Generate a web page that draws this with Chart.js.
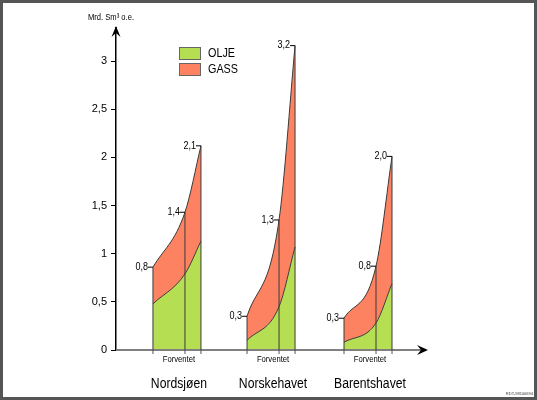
<!DOCTYPE html>
<html>
<head>
<meta charset="utf-8">
<script src="https://cdn.jsdelivr.net/npm/chart.js@4"></script>
<style>
    body { margin: 0; background: #fff; }
    canvas { display: block; }
</style>
</head>
<body>
<canvas id="resourceChart" width="537" height="400"></canvas>
<script>
// Uoppdagede ressurser per havområde - OLJE og GASS (Mrd. Sm3 o.e.)

const regions = ['Nordsjøen', 'Norskehavet', 'Barentshavet'];
const regionStart = [2.31, 8.19, 14.25];   // x of left edge per region
const phaseOffset = [0, 2, 3];             // low, Forventet, high
const phaseName = 'Forventet';

const nordsjoenOlje = [0.48, 0.79, 1.13];
const nordsjoenTotal = [0.86, 1.43, 2.12];
const norskehavetOlje = [0.10, 0.45, 1.07];
const norskehavetTotal = [0.35, 1.35, 3.16];
const barentshavetOlje = [0.08, 0.28, 0.69];
const barentshavetTotal = [0.33, 0.87, 2.01];

const nordsjoenLabels = ['0,8', '1,4', '2,1'];
const norskehavetLabels = ['0,3', '1,3', '3,2'];
const barentshavetLabels = ['0,3', '0,8', '2,0'];

const yTicks = [0, 0.5, 1, 1.5, 2, 2.5, 3];

const oljeValues = [nordsjoenOlje, norskehavetOlje, barentshavetOlje];
const totalValues = [nordsjoenTotal, norskehavetTotal, barentshavetTotal];
const valueLabels = [nordsjoenLabels, norskehavetLabels, barentshavetLabels];

const OLJE_COLOR = '#b6de52';
const GASS_COLOR = '#fc8261';
const LINE_COLOR = '#3a3a3a';
const FONT = '"Liberation Sans", Arial, sans-serif';

function points(r, values) {
    return values.map((v, i) => ({ x: regionStart[r] + phaseOffset[i], y: v }));
}

// text squeezed horizontally, the original uses a narrow face
function narrowText(ctx, text, x, y, size, squeeze) {
    ctx.save();
    ctx.translate(x, y);
    ctx.scale(squeeze, 1);
    ctx.font = size + 'px ' + FONT;
    ctx.fillText(text, 0, 0);
    ctx.restore();
}

const datasets = [];
regions.forEach((name, r) => {
    datasets.push({
        label: 'OLJE',
        data: points(r, oljeValues[r]),
        backgroundColor: OLJE_COLOR,
        borderColor: LINE_COLOR,
        borderWidth: 1,
        fill: 'origin'
    });
    datasets.push({
        label: 'GASS',
        data: points(r, totalValues[r]),
        backgroundColor: GASS_COLOR,
        borderColor: LINE_COLOR,
        borderWidth: 1,
        fill: '-1'
    });
});

// Draws axes arrows, vertical lines, value labels, captions and legend
const decorations = {
    id: 'decorations',
    afterDatasetsDraw(chart) {
        const ctx = chart.ctx;
        const xs = chart.scales.x;
        const ys = chart.scales.y;
        const area = chart.chartArea;
        const y0 = ys.getPixelForValue(0);

        ctx.save();

        // x axis
        ctx.strokeStyle = '#808080';
        ctx.lineWidth = 2;
        ctx.beginPath();
        ctx.moveTo(area.left, y0);
        ctx.lineTo(area.right - 8, y0);
        ctx.stroke();
        ctx.fillStyle = '#000';
        ctx.beginPath();
        ctx.moveTo(area.right - 2, y0);
        ctx.lineTo(area.right - 13, y0 - 5);
        ctx.lineTo(area.right - 9, y0);
        ctx.lineTo(area.right - 13, y0 + 5);
        ctx.closePath();
        ctx.fill();

        // y axis arrow
        const ax = area.left;
        ctx.beginPath();
        ctx.moveTo(ax, area.top - 2);
        ctx.lineTo(ax - 4.5, area.top + 9);
        ctx.lineTo(ax, area.top + 5);
        ctx.lineTo(ax + 4.5, area.top + 9);
        ctx.closePath();
        ctx.fill();

        regions.forEach((name, r) => {
            const px = phaseOffset.map(o => xs.getPixelForValue(regionStart[r] + o));

            px.forEach((x, i) => {
                const yt = ys.getPixelForValue(totalValues[r][i]);
                // vertical line
                ctx.strokeStyle = LINE_COLOR;
                ctx.lineWidth = 1;
                ctx.beginPath();
                ctx.moveTo(x, y0);
                ctx.lineTo(x, yt);
                ctx.stroke();
                // axis tick
                ctx.strokeStyle = '#555';
                ctx.beginPath();
                ctx.moveTo(x, y0);
                ctx.lineTo(x, y0 + 4);
                ctx.stroke();
                // value label with dash
                ctx.strokeStyle = '#000';
                ctx.beginPath();
                ctx.moveTo(x - 5, yt);
                ctx.lineTo(x, yt);
                ctx.stroke();
                ctx.fillStyle = '#000';
                ctx.textAlign = 'right';
                ctx.textBaseline = 'middle';
                narrowText(ctx, valueLabels[r][i], x - 5, yt, 10, 0.9);
            });

            const cx = (px[0] + px[2]) / 2 + 2;
            ctx.textAlign = 'center';
            ctx.textBaseline = 'alphabetic';
            narrowText(ctx, phaseName, cx, 362, 8.5, 0.9);
            narrowText(ctx, name, cx, 388, 14, 0.87);
        });

        // axis title
        ctx.textAlign = 'center';
        ctx.textBaseline = 'alphabetic';
        narrowText(ctx, 'Mrd. Sm³ o.e.', 111, 20, 9.5, 0.8);

        // legend
        const legend = [['OLJE', OLJE_COLOR, 47], ['GASS', GASS_COLOR, 63]];
        legend.forEach(([text, color, top]) => {
            ctx.fillStyle = color;
            ctx.fillRect(179, top, 22, 13);
            ctx.strokeStyle = '#666';
            ctx.lineWidth = 1;
            ctx.strokeRect(179.5, top + 0.5, 21, 12);
            ctx.fillStyle = '#000';
            ctx.textAlign = 'left';
            ctx.textBaseline = 'middle';
            narrowText(ctx, text, 208, top + 7, 12, 0.9);
        });

        // footer id
        ctx.font = '4px ' + FONT;
        ctx.textAlign = 'right';
        ctx.textBaseline = 'alphabetic';
        ctx.fillStyle = '#333';
        ctx.fillText('RDT-98100694', 533, 395);

        // frame
        ctx.strokeStyle = '#555';
        ctx.lineWidth = 3;
        ctx.strokeRect(1.5, 1.5, chart.width - 3, chart.height - 3);

        ctx.restore();
    }
};

new Chart(document.getElementById('resourceChart'), {
    type: 'line',
    data: { datasets: datasets },
    options: {
        responsive: false,
        animation: false,
        devicePixelRatio: 1,
        layout: { padding: { left: 0, top: 28, right: 107, bottom: 50 } },
        elements: {
            point: { radius: 0 },
            line: { cubicInterpolationMode: 'monotone' }
        },
        plugins: {
            legend: { display: false },
            tooltip: { enabled: false }
        },
        scales: {
            x: {
                type: 'linear',
                min: 0,
                max: 19.625,
                display: false
            },
            y: {
                min: 0,
                max: 3.343,
                afterFit: (scale) => { scale.width = 116; },
                afterBuildTicks: (scale) => {
                    scale.ticks = yTicks.map(v => ({ value: v }));
                },
                grid: {
                    drawOnChartArea: false,
                    drawTicks: true,
                    tickLength: 5,
                    color: '#000'
                },
                border: { display: true, color: '#000', width: 1.5 },
                ticks: {
                    padding: 4,
                    color: '#000',
                    font: { family: 'Liberation Sans', size: 11 },
                    callback: (v) => String(v).replace('.', ',')
                }
            }
        }
    },
    plugins: [decorations]
});
</script>
</body>
</html>
